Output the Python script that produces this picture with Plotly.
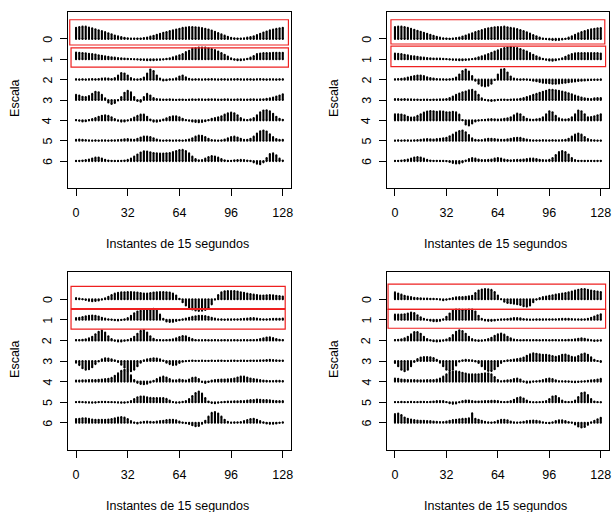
import plotly.graph_objects as go

# ---------------- data ----------------
instants = list(range(0, 129, 2))          # sampled instants (15 s each)
x_ticks = [0, 32, 64, 96, 128]
scales = [0, 1, 2, 3, 4, 5, 6]

# Panel 1 (top-left)
p1_s0 = [.55,.58,.6,.6,.56,.52,.47,.42,.38,.33,.28,.23,.17,.13,.09,.05,.03,.02,.02,.02,.02,.04,.07,.11,.15,.2,.25,.3,.34,.38,.42,.46,.5,.54,.56,.58,.58,.57,.56,.53,.5,.46,.41,.35,.29,.22,.16,.1,.05,.03,.02,.02,.03,.06,.09,.13,.19,.25,.31,.36,.42,.46,.49,.52,.55]
p1_s1 = [.33,.32,.31,.29,.27,.25,.23,.2,.17,.14,.12,.1,.08,.06,.05,.03,.02,.01,0,-.01,-.03,-.04,-.05,-.05,-.05,-.04,-.03,-.01,.02,.05,.1,.14,.2,.25,.35,.42,.52,.55,.58,.58,.57,.54,.5,.45,.38,.31,.22,.13,.05,-.02,-.05,-.05,-.03,.02,.08,.16,.25,.28,.3,.31,.31,.32,.32,.32,.32]
p1_s2 = [.02,.01,.02,.01,.02,.03,.02,.03,.05,.06,.05,.03,.08,.2,.32,.3,.2,.08,.02,.01,.03,.1,.3,.5,.42,.2,.05,-.04,-.03,.02,.02,.06,.15,.2,.12,.04,.01,.02,.02,.01,.02,.02,.03,.02,.01,.02,.02,.01,.02,.02,.03,.02,.01,.02,.02,.01,.02,.03,.02,.01,.02,.02,.01,.02,.02]
p1_s3 = [.25,.22,.16,.15,.2,.3,.4,.38,.25,.08,-.12,-.2,-.15,-.02,.15,.35,.45,.38,.15,-.05,-.08,.15,.3,.22,.1,.05,.03,.02,.02,.03,.02,.01,.02,.02,.01,.02,.03,.02,.04,.03,.02,.03,.04,.03,.02,.02,.03,.03,.02,.02,.03,.03,.02,.02,.03,.03,.02,.03,.04,.06,.08,.12,.17,.22,.28]
p1_s4 = [.02,-.02,-.05,-.04,.01,.06,.12,.18,.23,.25,.22,.15,.06,-.02,-.06,-.05,-.01,.06,.14,.22,.28,.28,.18,.04,-.06,-.07,-.03,.04,.1,.16,.2,.2,.15,.08,.02,-.02,-.05,-.08,-.09,-.08,-.04,.02,.08,.12,.15,.2,.28,.35,.38,.35,.25,.12,.04,.02,.05,.12,.25,.4,.48,.5,.45,.32,.18,.08,.03]
p1_s5 = [.05,.06,.05,.04,.02,.01,.02,.01,.02,.02,.01,.02,.02,.03,.05,.07,.08,.06,.05,.1,.16,.2,.2,.18,.12,.06,.02,.01,.02,.02,.01,.02,.02,.01,.03,.06,.12,.2,.25,.24,.18,.1,.04,.02,.01,.02,.06,.12,.18,.2,.16,.1,.05,.05,.1,.2,.35,.46,.5,.45,.32,.18,.08,.05,.05]
p1_s6 = [.01,.02,.03,.05,.08,.13,.17,.18,.13,.07,.03,.02,.01,.01,.02,.03,.06,.12,.22,.32,.42,.48,.47,.43,.4,.38,.37,.37,.38,.4,.44,.5,.54,.55,.5,.38,.22,.1,.04,.05,.12,.2,.25,.23,.17,.1,.04,.01,.02,.04,.05,.06,.05,.03,.01,-.06,-.13,-.15,-.06,.15,.35,.38,.28,.12,.03]

# Panel 2 (top-right)
p2_s0 = [.58,.6,.6,.58,.54,.5,.45,.4,.35,.3,.25,.2,.15,.1,.06,.03,.02,.01,.02,.04,.07,.12,.17,.22,.28,.33,.38,.43,.48,.52,.55,.57,.58,.58,.6,.57,.54,.52,.48,.43,.38,.32,.26,.19,.13,.07,.02,-.01,-.03,-.05,-.06,-.05,-.03,.01,.06,.13,.2,.27,.33,.38,.43,.47,.5,.52,.53]
p2_s1 = [.28,.27,.25,.22,.19,.16,.14,.12,.1,.08,.06,.05,.04,.03,.03,.02,.01,-.01,-.03,-.04,-.05,-.05,-.04,-.02,.01,.05,.1,.15,.2,.26,.32,.38,.44,.5,.55,.58,.6,.58,.55,.5,.44,.38,.3,.22,.15,.08,.02,-.03,-.06,-.07,-.05,-.01,.05,.12,.2,.26,.29,.3,.3,.3,.3,.3,.3,.3,.28]
p2_s2 = [.02,.03,.04,.06,.1,.14,.17,.2,.2,.17,.12,.08,.05,.03,.02,.02,.01,.02,.04,.1,.25,.42,.5,.4,.18,-.05,-.2,-.3,-.33,-.3,-.2,-.02,.25,.5,.52,.35,.15,.05,.02,.01,.02,.01,-.02,-.05,-.08,-.12,-.15,-.17,-.18,-.2,-.2,-.19,-.17,-.15,-.13,-.11,-.09,-.07,-.05,-.04,-.03,-.02,-.01,-.01,0]
p2_s3 = [.05,.05,.04,.05,.04,.03,.02,.02,.01,.02,.02,.01,.02,.02,.03,.03,.05,.1,.17,.25,.32,.38,.42,.48,.5,.42,.25,.08,.01,-.03,-.05,-.03,.01,.02,.02,.01,.02,.03,.04,.06,.1,.15,.2,.25,.3,.35,.4,.45,.5,.5,.48,.45,.42,.38,.33,.28,.22,.17,.12,.08,.06,.05,.08,.1,.1]
p2_s4 = [.3,.3,.29,.25,.18,.14,.15,.22,.3,.38,.43,.46,.45,.42,.44,.43,.4,.4,.42,.4,.28,.02,-.2,-.25,-.15,-.05,-.01,.02,.03,.05,.06,.05,.04,.05,.08,.1,.15,.25,.33,.3,.18,.08,.04,.03,.05,.08,.15,.3,.45,.4,.22,.1,.05,.04,.07,.15,.3,.48,.45,.3,.15,.16,.2,.25,.3]
p2_s5 = [.01,.02,.01,.02,.02,.01,.02,.03,.05,.07,.08,.07,.06,.08,.1,.12,.15,.22,.3,.4,.48,.5,.42,.28,.12,.05,.03,.04,.07,.1,.1,.08,.06,.05,.05,.07,.1,.13,.15,.14,.1,.06,.03,.02,.02,.02,.03,.02,.02,.03,.02,.02,.03,.05,.1,.2,.3,.35,.3,.18,.08,.03,.02,.01,.01]
p2_s6 = [.02,.02,.03,.05,.08,.13,.18,.2,.18,.12,.06,.03,.02,.02,.01,.01,0,-.04,-.09,-.12,-.11,-.06,.03,.1,.15,.12,.08,.05,.05,.06,.08,.12,.15,.13,.08,.05,.04,.05,.06,.06,.08,.1,.12,.12,.1,.07,.05,.04,.06,.15,.3,.45,.5,.45,.32,.15,.05,.02,.02,.01,.02,.02,.01,.02,.02]

# Panel 3 (bottom-left)
p3_s0 = [.05,.03,0,-.04,-.08,-.1,-.09,-.06,-.02,.04,.12,.2,.27,.31,.33,.34,.35,.35,.34,.32,.3,.28,.28,.3,.32,.34,.35,.35,.34,.32,.28,.18,.02,-.15,-.3,-.42,-.5,-.55,-.57,-.56,-.52,-.42,-.25,-.02,.2,.33,.38,.4,.4,.39,.37,.34,.31,.28,.25,.22,.2,.18,.18,.19,.2,.19,.17,.15,.13]
p3_s1 = [.08,.1,.13,.17,.2,.21,.2,.16,.1,.06,.03,.01,-.02,-.03,-.01,.02,.08,.2,.32,.4,.44,.45,.47,.5,.53,.45,.25,.05,-.08,-.11,-.1,-.06,-.02,.02,.06,.1,.14,.17,.2,.2,.18,.15,.1,.06,.03,.02,.01,.02,.02,.03,.03,.04,.05,.06,.08,.08,.06,.04,.03,.03,.04,.05,.05,.05,.06]
p3_s2 = [.02,.02,.03,.05,.1,.18,.3,.42,.48,.38,.2,.06,-.02,-.05,-.05,-.02,.02,.08,.18,.32,.46,.49,.38,.2,.08,.02,.02,.01,.02,.03,.05,.1,.16,.21,.2,.13,.06,.02,.01,.01,.02,.01,.01,.02,.01,.01,.02,.01,.01,.02,.01,.01,.02,.01,.02,.02,.03,.06,.1,.14,.15,.12,.07,.03,.02]
p3_s3 = [-.08,-.2,-.35,-.42,-.4,-.3,-.15,-.02,.08,.13,.12,.08,.03,-.05,-.18,-.32,-.45,-.5,-.42,-.25,-.08,.03,.08,.11,.13,.12,.08,.02,-.08,-.15,-.2,-.18,-.1,-.04,-.01,.01,.02,.01,.01,.02,.01,.01,.02,.01,.02,.02,.01,.01,.02,.02,.01,.02,.02,.01,.02,.02,.02,.03,.04,.05,.06,.05,.03,.02,.02]
p3_s4 = [.05,.05,.06,.06,.07,.08,.08,.09,.1,.12,.14,.18,.28,.4,.52,.57,.5,.3,.08,-.06,-.12,-.13,-.1,-.04,.04,.12,.2,.24,.2,.12,.06,.06,.1,.08,.05,.1,.18,.2,.12,-.02,-.07,-.02,.05,.08,.09,.1,.1,.11,.12,.15,.2,.24,.24,.2,.15,.12,.1,.07,.05,.04,.03,.03,.04,.04,.03]
p3_s5 = [.01,.02,.01,-.01,-.02,-.03,-.02,.01,.02,.02,.01,.01,0,-.02,-.03,-.03,0,.06,.15,.24,.28,.27,.24,.21,.2,.2,.2,.2,.16,.08,.01,-.03,-.02,.02,.06,.15,.3,.45,.52,.42,.2,.03,-.04,-.05,-.03,0,.02,.03,.03,.04,.04,.05,.06,.08,.1,.11,.13,.12,.11,.1,.09,.07,.06,.05,.05]
p3_s6 = [.18,.2,.22,.22,.19,.16,.15,.15,.15,.15,.16,.18,.22,.26,.28,.25,.18,.08,.01,-.03,.02,.05,.06,.05,.04,.06,.08,.1,.13,.15,.15,.12,.06,.01,-.02,-.06,-.12,-.17,-.15,-.05,.1,.3,.48,.52,.45,.3,.15,.05,.01,.02,.03,.04,.08,.13,.18,.2,.15,.08,.02,-.03,-.05,-.05,-.03,0,.03]

# Panel 4 (bottom-right)
p4_s0 = [.33,.28,.22,.17,.13,.1,.07,.05,.04,.03,.03,.02,.02,.01,-.02,-.05,-.03,.02,.06,.09,.1,.11,.12,.14,.17,.3,.42,.47,.49,.48,.45,.35,.18,0,-.12,-.18,-.2,-.22,-.24,-.28,-.34,-.36,-.3,-.15,-.02,.05,.1,.13,.16,.19,.22,.25,.28,.3,.33,.37,.42,.46,.49,.49,.46,.42,.4,.37,.35]
p4_s1 = [.25,.25,.26,.27,.3,.35,.33,.22,.12,.05,0,-.04,-.07,-.07,-.05,.02,.15,.3,.45,.5,.5,.48,.48,.5,.5,.4,.2,.05,-.03,-.05,-.05,-.03,0,.02,.03,.04,.06,.08,.08,.07,.04,.02,.01,.01,.02,.02,.02,.03,.03,.03,.03,.04,.05,.05,.05,.04,.03,.03,.02,.03,.05,.1,.16,.22,.27]
p4_s2 = [.02,.03,.05,.1,.18,.3,.4,.41,.32,.18,.07,.01,-.04,-.05,-.04,-.01,.04,.12,.26,.42,.49,.45,.32,.18,.06,0,-.03,-.02,.02,.06,.13,.22,.3,.33,.28,.18,.1,.04,.02,.01,.02,.02,.01,.02,.02,.01,.02,.02,.01,.02,.02,.01,.02,.02,.03,.03,.05,.08,.1,.08,.04,.01,-.03,-.02,0]
p4_s3 = [-.1,-.25,-.42,-.5,-.42,-.25,-.05,.1,.17,.19,.19,.18,.14,.06,-.08,-.25,-.42,-.49,-.42,-.22,-.03,.04,.06,.05,.03,-.02,-.1,-.25,-.4,-.48,-.49,-.4,-.25,-.1,-.01,.03,.05,.07,.1,.12,.17,.25,.33,.37,.35,.32,.3,.3,.28,.24,.2,.24,.3,.31,.27,.2,.18,.24,.33,.36,.3,.18,.06,0,-.05]
p4_s4 = [.15,.14,.1,.09,.08,.07,.07,.06,.06,.06,.07,.07,.08,.1,.15,.24,.35,.44,.49,.5,.47,.43,.39,.36,.35,.35,.36,.38,.4,.4,.35,.22,.08,.02,.04,.06,.08,.12,.15,.1,0,-.05,-.04,0,.02,.04,.07,.12,.15,.12,.06,.02,.02,.01,0,-.02,-.03,-.02,0,.02,.04,.06,.08,.1,.13]
p4_s5 = [.01,.01,.02,.01,.01,.02,.01,.01,.02,.02,.01,.02,.03,.05,.06,.05,.01,-.05,-.08,-.06,0,.05,.08,.08,.05,.03,.03,.04,.05,.06,.07,.07,.05,.02,.01,.02,.05,.12,.2,.24,.18,.08,.02,0,0,.01,.02,.05,.15,.28,.3,.2,.08,.02,.01,.02,.08,.25,.45,.47,.35,.15,.03,.01,0]
p4_s6 = [.42,.45,.38,.26,.2,.16,.13,.11,.1,.1,.09,.08,.06,.05,.04,.04,.06,.1,.13,.15,.17,.19,.2,.22,.46,.2,.15,.1,.05,.02,.01,.04,.1,.14,.15,.12,.06,.02,.01,.03,.05,.08,.1,.11,.1,.07,.03,-.01,-.02,.02,.08,.12,.12,.09,.04,.01,-.08,-.18,-.23,-.2,-.1,.02,.1,.17,.24]

panels = [
    [p1_s0, p1_s1, p1_s2, p1_s3, p1_s4, p1_s5, p1_s6],
    [p2_s0, p2_s1, p2_s2, p2_s3, p2_s4, p2_s5, p2_s6],
    [p3_s0, p3_s1, p3_s2, p3_s3, p3_s4, p3_s5, p3_s6],
    [p4_s0, p4_s1, p4_s2, p4_s3, p4_s4, p4_s5, p4_s6],
]
for pan in panels:
    for s in pan:
        assert len(s) == len(instants), len(s)

x_label = "Instantes de 15 segundos"
y_label = "Escala"

# ---------------- layout geometry (pixels) ----------------
W, H = 612, 512
boxes = [  # left, right, top, bottom of each plot box
    (68, 292, 12, 188),
    (388, 611, 12, 188),
    (68, 292, 272, 450),
    (388, 611, 272, 450),
]
# highlight rectangles (data coords) around scales 0 and 1
rects = [
    [(-3.9, 131.5, -0.94, 0.30), (-3.1, 131.5, 0.44, 1.39)],
    [(-2.5, 130.5, -0.94, 0.25), (-2.5, 131.0, 0.36, 1.36)],
    [(-3.1, 129.5, -0.62, 0.46), (-3.1, 129.5, 0.49, 1.45)],
    [(-4.3, 131.0, -0.73, 0.49), (-4.3, 131.0, 0.49, 1.41)],
]

FONT = "Liberation Sans, Arial, sans-serif"
fig = go.Figure()
layout = dict(
    width=W, height=H, margin=dict(l=0, r=0, t=0, b=0),
    paper_bgcolor="white", plot_bgcolor="white", showlegend=False,
    font=dict(family=FONT, size=12, color="black"),
)
shapes = []
annotations = []

for i, pan in enumerate(panels):
    n = "" if i == 0 else str(i + 1)
    xs, ys = [], []
    for k, vals in zip(scales, pan):
        for x, v in zip(instants, vals):
            xs += [x, x, None]
            ys += [k, k - v, None]
    fig.add_trace(go.Scatter(x=xs, y=ys, mode="lines+markers", xaxis="x" + n, yaxis="y" + n,
                             line=dict(color="black", width=2.1),
                             marker=dict(color="black", size=2.1, line=dict(width=0)),
                             hoverinfo="skip"))
    l, r, t, b = boxes[i]
    layout["xaxis" + n] = dict(
        domain=[l / W, r / W], anchor="y" + n, range=[-5.12, 133.12],
        tickvals=x_ticks, ticks="outside", ticklen=7, tickcolor="black", tickwidth=1,
        showline=True, linecolor="black", linewidth=1, mirror=True,
        showgrid=False, zeroline=False, ticklabelstandoff=6,
        tickfont=dict(size=12.5, color="black", family=FONT),
    )
    layout["yaxis" + n] = dict(
        domain=[1 - b / H, 1 - t / H], anchor="x" + n, range=[7.32, -1.32],
        tickvals=scales, ticks="outside", ticklen=7, tickcolor="black", tickwidth=1,
        showticklabels=False, showline=True, linecolor="black", linewidth=1, mirror=True,
        showgrid=False, zeroline=False,
    )
    # y tick labels, rotated like R's default (las = 0)
    for k in scales:
        annotations.append(dict(text=str(k), xref="paper", yref="y" + n, x=(l - 20) / W, y=k,
                                showarrow=False, xanchor="center", yanchor="middle",
                                textangle=-90,
                                font=dict(size=12.5, color="black", family=FONT)))
    for (x0, x1, y0, y1) in rects[i]:
        shapes.append(dict(type="rect", xref="x" + n, yref="y" + n, x0=x0, x1=x1, y0=y0, y1=y1,
                           line=dict(color="#ee2020", width=1.2), fillcolor="rgba(0,0,0,0)"))
    cx = (l + r) / 2
    annotations.append(dict(text=x_label, xref="paper", yref="paper", x=(cx - 2) / W,
                            y=1 - (b + 56) / H, showarrow=False, xanchor="center", yanchor="middle",
                            font=dict(size=12.5, color="black", family=FONT)))
    annotations.append(dict(text=y_label, xref="paper", yref="paper", x=(l - 53) / W,
                            y=1 - ((t + b) / 2 - 2) / H, showarrow=False, xanchor="center",
                            yanchor="middle", textangle=-90,
                            font=dict(size=12.5, color="black", family=FONT)))

layout["shapes"] = shapes
layout["annotations"] = annotations
fig.update_layout(**layout)
fig.write_html("out.html", config={"displayModeBar": False},
               post_script="document.body.style.margin='0';document.body.style.overflow='hidden';")
